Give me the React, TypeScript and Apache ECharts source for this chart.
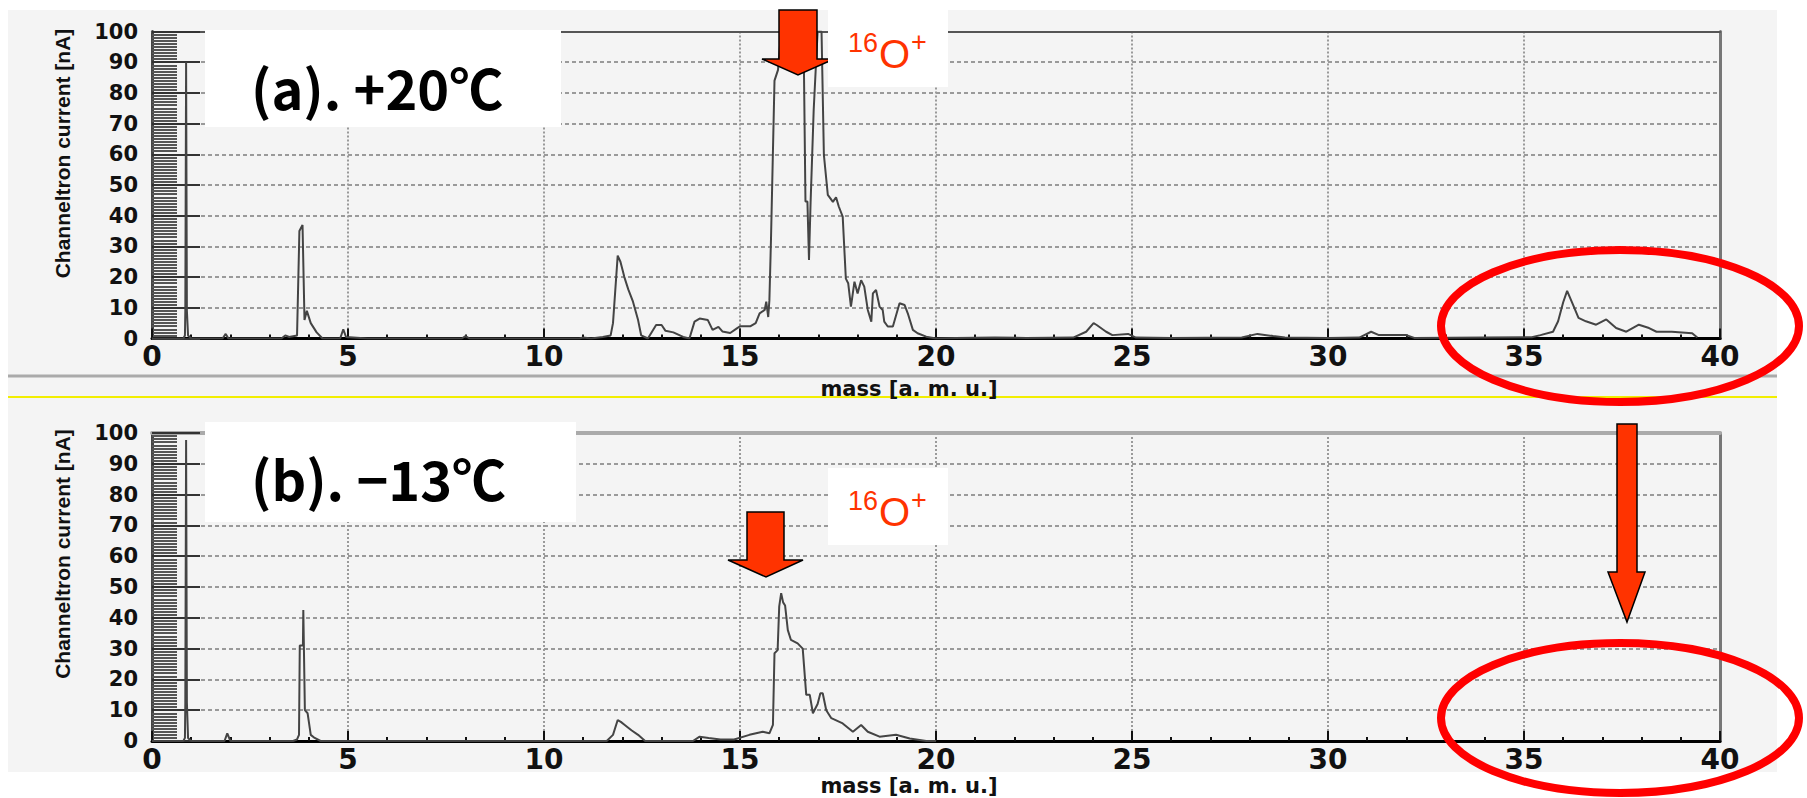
import React, { useEffect, useRef } from "react";
import * as echarts from "echarts";

// ---------- data ----------
const massTickLabels = ["0", "5", "10", "15", "20", "25", "30", "35", "40"];
const currentTickLabels = ["0", "10", "20", "30", "40", "50", "60", "70", "80", "90", "100"];
const panelLabels = ["(a). +20℃", "(b). −13℃"];
const yAxisName = "Channeltron current [nA]";
const xAxisName = "mass [a. m. u.]";

// (a) +20 °C : [mass (a.m.u.), channeltron current (nA)]
const spectrumWarm: [number, number][] = [
  [0, 0], [0.5, 0], [0.8, 0], [0.84, 1], [0.85, 9], [0.87, 90], [0.89, 9], [0.92, 1], [1.0, 0],
  [1.8, 0], [1.88, 1.5], [1.95, 0], [3.3, 0], [3.4, 1], [3.5, 0.5], [3.7, 1],
  [3.76, 35], [3.84, 37], [3.89, 6], [3.95, 9], [4.05, 5], [4.2, 2], [4.35, 0],
  [4.8, 0], [4.88, 3], [4.95, 0.5], [5.5, 0], [7.9, 0], [8.0, 0.8], [8.1, 0], [10.9, 0], [11.0, 0.3],
  [11.2, 0], [11.5, 0.5], [11.7, 1], [11.76, 5], [11.88, 27], [11.95, 25], [12.05, 20],
  [12.15, 16], [12.27, 12], [12.4, 6], [12.48, 1], [12.65, 0], [12.86, 4.4], [13.0, 4.4],
  [13.1, 2.5], [13.3, 2], [13.55, 0.5], [13.71, 0], [13.84, 5.5], [13.97, 6.5], [14.18, 6],
  [14.3, 2.8], [14.45, 3.8], [14.55, 2.3], [14.75, 1.8], [14.92, 3.3], [15.0, 4], [15.27, 4],
  [15.4, 5], [15.5, 8.2], [15.63, 9.3], [15.67, 12], [15.72, 7], [15.75, 12.5], [15.79, 32],
  [15.88, 84], [15.97, 87.5], [16.05, 100], [16.3, 100], [16.62, 100], [16.67, 44.6],
  [16.72, 44.6], [16.76, 25.6], [16.8, 44], [16.88, 74.5], [16.98, 100], [17.08, 100],
  [17.14, 59.8], [17.24, 46.8], [17.37, 44.5], [17.45, 46], [17.52, 43], [17.62, 39.7],
  [17.7, 19.5], [17.76, 18], [17.83, 10.4], [17.92, 18.5], [18.0, 14.7], [18.09, 19],
  [18.17, 16.9], [18.26, 9.3], [18.35, 5.5], [18.39, 14.7], [18.47, 15.8], [18.56, 10.4],
  [18.64, 9.3], [18.68, 5.5], [18.77, 3.9], [18.9, 3.9], [19.07, 11.5], [19.2, 10.9],
  [19.28, 8.2], [19.41, 2.8], [19.53, 1.7], [19.75, 0.6], [20.0, 0], [20.5, 0.2], [21.5, 0.3],
  [22.3, 0.2], [23.5, 0.3], [23.83, 2.2], [24.02, 5], [24.1, 4.4], [24.34, 2.2], [24.5, 1.1],
  [24.9, 1.5], [25.1, 0.3], [26.0, 0.2], [27.8, 0.3], [28.2, 1.5], [28.6, 0.8], [28.9, 0.3],
  [30.0, 0.2], [30.8, 0.3], [31.1, 2.2], [31.3, 1.1], [32.0, 1.1], [32.2, 0.2], [34.0, 0.3],
  [35.2, 0.4], [35.42, 1.1], [35.74, 2.2], [35.87, 5.6], [36.0, 11.8], [36.1, 15.5],
  [36.26, 10.7], [36.39, 6.7], [36.58, 5.6], [36.84, 4.5], [37.1, 6.2], [37.35, 3.4],
  [37.61, 2.2], [37.93, 4.5], [38.19, 3.4], [38.38, 2.2], [38.77, 2.2], [39.29, 1.7], [39.42, 0.3],
];

// (b) -13 °C
const spectrumCold: [number, number][] = [
  [0, 0], [0.8, 0], [0.84, 1], [0.85, 12.5], [0.87, 97.7], [0.89, 12.5], [0.92, 1], [1.0, 0],
  [1.85, 0], [1.92, 2.5], [2.0, 0], [3.6, 0], [3.7, 0.5], [3.75, 2], [3.77, 31], [3.85, 31],
  [3.86, 42.5], [3.9, 10], [3.97, 9], [4.05, 2], [4.15, 1], [4.3, 0], [11.6, 0], [11.76, 2],
  [11.88, 6.8], [11.96, 6.2], [12.06, 5.2], [12.23, 3.5], [12.4, 2], [12.58, 0], [13.8, 0],
  [13.97, 1.4], [14.2, 1], [14.5, 0.5], [14.85, 0.5], [15.24, 2], [15.58, 3], [15.75, 2.5],
  [15.84, 5.2], [15.88, 28.5], [15.96, 29.5], [16.0, 43.6], [16.05, 48], [16.1, 45],
  [16.15, 44], [16.22, 36], [16.3, 32.8], [16.47, 31.7], [16.6, 30], [16.69, 15], [16.78, 15],
  [16.86, 9], [16.98, 12], [17.05, 15.5], [17.11, 15.5], [17.2, 10], [17.33, 7.4],
  [17.62, 5.7], [17.88, 3], [18.09, 5.2], [18.26, 3], [18.56, 1.4], [18.98, 2], [19.33, 0.8],
  [19.75, 0], [20.0, 0],
];

// ---------- layout ----------
const GRID_LEFT = 152;
const GRID_WIDTH = 1568;
const GRID_TOPS = [31.5, 433];
const GRID_HEIGHTS = [307, 308];
const TOP_BORDER = [
  { color: "#555555", width: 2 },
  { color: "#aaaaaa", width: 4 },
];
const PANEL_OFFSET = [0, 458];

const RED = "#ff3300";

function buildOption() {
  const grids = [0, 1].map((i) => ({
    left: GRID_LEFT,
    top: GRID_TOPS[i],
    width: GRID_WIDTH,
    height: GRID_HEIGHTS[i],
    containLabel: false,
  }));

  const xAxes: any[] = [];
  const yAxes: any[] = [];
  [0, 1].forEach((i) => {
    xAxes.push({
      type: "value",
      gridIndex: i,
      min: 0,
      max: 40,
      interval: 5,
      position: "bottom",
      axisLine: { show: true, onZero: false, lineStyle: { color: "#000", width: 3 } },
      axisTick: { show: true, inside: true, length: 10, lineStyle: { color: "#111", width: 2 } },
      minorTick: { show: true, splitNumber: 5, length: 4, lineStyle: { color: "#111", width: 2 } },
      axisLabel: {
        margin: 8,
        color: "#111",
        fontFamily: "DejaVu Sans",
        fontWeight: "bold",
        fontSize: 28,
        lineHeight: 20,
        formatter: (v: number) => massTickLabels[Math.round(v / 5)] ?? String(v),
      },
      splitLine: { show: true, lineStyle: { color: "#9a9a9a", width: 2, type: [2, 2] } },
    });
    xAxes.push({
      type: "value",
      gridIndex: i,
      min: 0,
      max: 40,
      position: "top",
      axisLine: { show: true, onZero: false, lineStyle: TOP_BORDER[i] },
      axisTick: { show: false },
      axisLabel: { show: false },
      splitLine: { show: false },
    });
    yAxes.push({
      type: "value",
      gridIndex: i,
      min: 0,
      max: 100,
      interval: 10,
      position: "left",
      axisLine: { show: true, onZero: false, lineStyle: { color: "#444", width: 3 } },
      axisTick: { show: true, inside: true, length: 48, lineStyle: { color: "#333", width: 2 } },
      minorTick: { show: true, splitNumber: 10, length: 25, lineStyle: { color: "#555", width: 2 } },
      axisLabel: {
        margin: 14,
        color: "#111",
        fontFamily: "DejaVu Sans",
        fontWeight: "bold",
        fontSize: 21,
        formatter: (v: number) => currentTickLabels[Math.round(v / 10)] ?? String(v),
      },
      splitLine: { show: true, lineStyle: { color: "#9a9a9a", width: 2, type: [4, 3] } },
    });
    yAxes.push({
      type: "value",
      gridIndex: i,
      min: 0,
      max: 100,
      position: "right",
      axisLine: { show: true, onZero: false, lineStyle: { color: "#777", width: 3 } },
      axisTick: { show: false },
      axisLabel: { show: false },
      splitLine: { show: false },
    });
  });

  const series = [spectrumWarm, spectrumCold].map((data, i) => ({
    type: "line",
    xAxisIndex: i * 2,
    yAxisIndex: i * 2,
    data,
    showSymbol: false,
    symbol: "none",
    lineStyle: { color: "#444444", width: 2 },
    z: 3,
  }));

  const g: any[] = [];
  // page background (checkered light gray area) and separators
  g.push({ type: "rect", z: -10, silent: true, shape: { x: 8, y: 10, width: 1769, height: 762 }, style: { fill: "#f4f4f4" } });
  g.push({ type: "line", z: -5, silent: true, shape: { x1: 8, y1: 376, x2: 1777, y2: 376 }, style: { stroke: "#aaaaaa", lineWidth: 3 } });
  g.push({ type: "line", z: -5, silent: true, shape: { x1: 8, y1: 397, x2: 1777, y2: 397 }, style: { stroke: "#f2ee00", lineWidth: 2 } });

  [0, 1].forEach((i) => {
    // y axis name
    g.push({
      type: "text",
      z: 50,
      x: 62,
      y: i === 0 ? 153.5 : 554,
      rotation: Math.PI / 2,
      style: {
        text: yAxisName,
        fill: "#111",
        fontFamily: "Liberation Sans",
        fontWeight: "bold",
        fontSize: 21,
        align: "center",
        verticalAlign: "middle",
        textAlign: "center",
        textVerticalAlign: "middle",
      },
    });
    // x axis name
    g.push({
      type: "text",
      z: 50,
      x: 909,
      y: i === 0 ? 389 : 786,
      style: {
        text: xAxisName,
        fill: "#111",
        fontFamily: "DejaVu Sans",
        fontWeight: "bold",
        fontSize: 21,
        lineHeight: 16,
        align: "center",
        verticalAlign: "middle",
        textAlign: "center",
        textVerticalAlign: "middle",
      },
    });
    // panel label box
    g.push({
      type: "rect",
      z: 60,
      shape: i === 0 ? { x: 205, y: 30, width: 356, height: 97 } : { x: 205, y: 422, width: 371, height: 100 },
      style: { fill: "#ffffff" },
    });
    g.push({
      type: "text",
      z: 61,
      x: 251,
      y: i === 0 ? 86 : 477,
      style: {
        text: panelLabels[i],
        fill: "#000",
        fontFamily: "Noto Sans CJK JP",
        fontWeight: "bold",
        fontSize: 54,
        align: "left",
        verticalAlign: "middle",
        textAlign: "left",
        textVerticalAlign: "middle",
      },
    });
  });

  // arrows
  const topArrow = [[779, 10], [817, 10], [817, 59], [834, 59], [798, 75], [762, 59], [779, 59]];
  const botArrow = [[747, 512], [784, 512], [784, 560], [803, 560], [766, 577], [728, 560], [747, 560]];
  const sideArrow = [[1617, 424], [1637, 424], [1637, 572], [1645, 572], [1627, 622], [1608, 572], [1617, 572]];
  [topArrow, botArrow, sideArrow].forEach((pts) => {
    g.push({
      type: "polygon",
      z: 70,
      shape: { points: pts },
      style: { fill: RED, stroke: "#000", lineWidth: 1.5 },
    });
  });

  // 16O+ labels
  [0, 1].forEach((i) => {
    const dy = PANEL_OFFSET[i];
    g.push({ type: "rect", z: 80, shape: { x: 828, y: 10 + dy, width: 120, height: 77 }, style: { fill: "#ffffff" } });
    const parts = [
      { t: "16", x: 848, y: 43, s: 27 },
      { t: "O", x: 879, y: 54, s: 40 },
      { t: "+", x: 911, y: 42, s: 27 },
    ];
    parts.forEach((p) => {
      g.push({
        type: "text",
        z: 81,
        x: p.x,
        y: p.y + dy,
        style: {
          text: p.t,
          fill: RED,
          fontFamily: "Liberation Sans",
          fontSize: p.s,
          align: "left",
          verticalAlign: "middle",
          textAlign: "left",
          textVerticalAlign: "middle",
        },
      });
    });
  });

  // red ellipses
  g.push({ type: "ellipse", z: 90, shape: { cx: 1620, cy: 326, rx: 179, ry: 76 }, style: { fill: "none", stroke: "#ff0000", lineWidth: 8 } });
  g.push({ type: "ellipse", z: 90, shape: { cx: 1620, cy: 718, rx: 179, ry: 75 }, style: { fill: "none", stroke: "#ff0000", lineWidth: 8 } });

  return {
    animation: false,
    backgroundColor: "#ffffff",
    grid: grids,
    xAxis: xAxes,
    yAxis: yAxes,
    series,
    graphic: { elements: g },
  };
}

export default function App() {
  const ref = useRef<HTMLDivElement>(null);
  useEffect(() => {
    if (!ref.current) return;
    const chart = echarts.init(ref.current, undefined, { renderer: "svg" });
    chart.setOption(buildOption() as any);
    return () => chart.dispose();
  }, []);
  return (
    <div
      ref={ref}
      style={{ position: "fixed", left: 0, top: 0, width: 1807, height: 798, background: "#fff" }}
    />
  );
}
